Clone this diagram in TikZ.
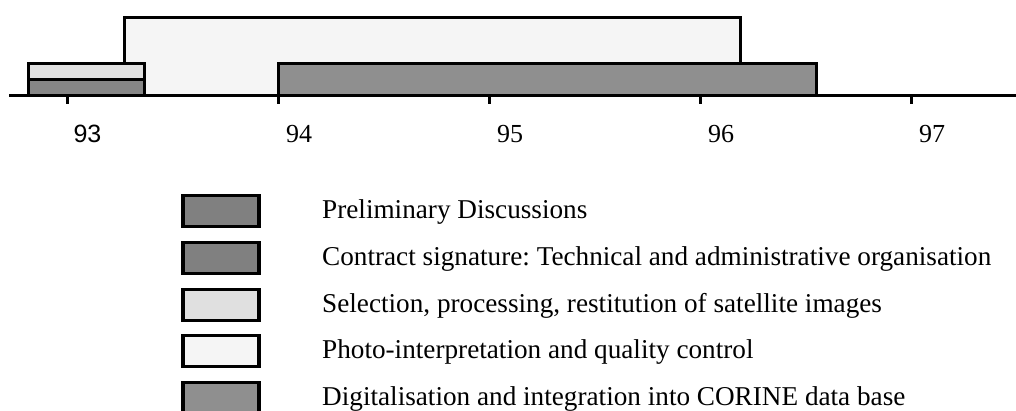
\documentclass[tikz,border=0pt]{standalone}
\usepackage{fontspec}
\setmainfont{Liberation Serif}
\newfontfamily\arialfont{Liberation Sans}
\definecolor{darkbar}{HTML}{808080}
\definecolor{midbar}{HTML}{8F8F8F}
\definecolor{selbar}{HTML}{E0E0E0}
\definecolor{photobar}{HTML}{F5F5F5}
\begin{document}
\frenchspacing
\begin{tikzpicture}[x=1pt,y=-1pt,
  bar/.style={draw=black,line width=3pt,line join=miter},
  legbox/.style={draw=black,line width=3.5pt,minimum width=76pt,minimum height=31pt,inner sep=0pt,anchor=center},
  legtext/.style={anchor=base west,inner sep=0pt,font=\fontsize{27.2}{30}\selectfont},
  ticklab/.style={anchor=base,inner sep=0pt,font=\fontsize{26}{28}\selectfont}]
\useasboundingbox (0,0) rectangle (1016,410);
% bars
\draw[bar,fill=photobar] (124,17) rectangle (740,95);
\draw[bar,fill=midbar] (278,63) rectangle (816,95);
\draw[bar,fill=selbar] (28,63) rectangle (144,79);
\draw[bar,fill=darkbar!95!white] (28,79) rectangle (144,95);
% axis
\coordinate (axL) at (9,95);
\coordinate (axR) at (1016,95);
\draw[line width=3pt] (axL) -- (axR);
\foreach \x/\n in {67/93,278/94,489/95,700/96,911.7/97}{
  \coordinate (t\n) at (\x,95);
  \draw[line width=3pt] (t\n) -- ++(0,9);
}
\node[ticklab,font=\arialfont\fontsize{25}{28}\selectfont] (l93) at (87.5,142) {93};
\node[ticklab] (l94) at (299,142) {94};
\node[ticklab] (l95) at (510,142) {95};
\node[ticklab] (l96) at (721,142) {96};
\node[ticklab] (l97) at (932,142) {97};
% legend
\node[legbox,fill=darkbar] (b1) at (221,211) {};
\node[legbox,fill=darkbar] (b2) at (221,258) {};
\node[legbox,fill=selbar] (b3) at (221,305) {};
\node[legbox,fill=photobar] (b4) at (221,351) {};
\node[legbox,fill=midbar] (b5) at (221,398) {};
\node[legtext] (t1) at (322,218) {Preliminary Discussions};
\node[legtext] (t2) at (322,265) {Contract signature: Technical and administrative organisation};
\node[legtext] (t3) at (322,312) {Selection, processing, restitution of satellite images};
\node[legtext] (t4) at (322,358.5) {Photo-interpretation and quality control};
\node[legtext] (t5) at (322,405) {Digitalisation and integration into CORINE data base};
\end{tikzpicture}
\end{document}
